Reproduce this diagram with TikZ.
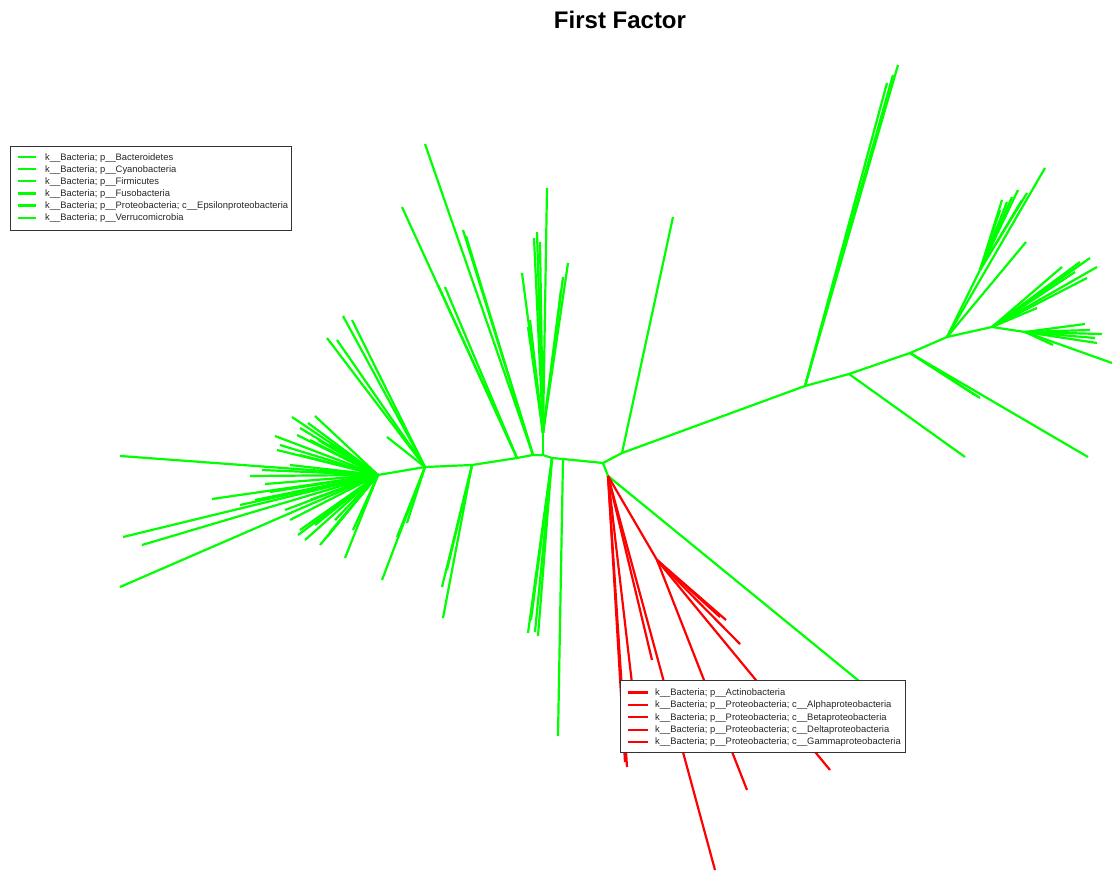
\documentclass[tikz,border=0pt]{standalone}
\usepackage{fontspec}
\setmainfont{Liberation Sans}
\usetikzlibrary{positioning}
\definecolor{treegreen}{HTML}{00FF00}
\definecolor{treered}{HTML}{FF0000}
\definecolor{boxgray}{HTML}{333333}

\begin{document}
\begin{tikzpicture}[x=1pt,y=-1pt,
  grn/.style={draw=treegreen,line width=2.2pt},
  rd/.style={draw=treered,line width=2.2pt},
  lgbox/.style={draw=boxgray,fill=white,line width=0.9pt},
  lgtext/.style={font=\fontsize{9.4}{10}\selectfont,anchor=west,inner sep=0pt,text=black!85},
]
  \useasboundingbox (0,0) rectangle (1112,875);

  % Title
  \node[font=\fontsize{24}{26}\bfseries\selectfont] (title) at (620,20) {First Factor};

  % Backbone of the tree
  \coordinate (L0) at (378,475);
  \coordinate (L1) at (425,467);
  \coordinate (L2) at (472,465);
  \coordinate (L3) at (517,458);
  \coordinate (L4) at (533,455);
  \coordinate (L5) at (543,455);
  \coordinate (L6) at (552,458);
  \coordinate (L7) at (563,459);
  \coordinate (C)  at (603,463);
  \coordinate (G0) at (608,476);
  \coordinate (R1) at (622,453);
  \coordinate (R2) at (805,386);
  \coordinate (R3) at (849,374);
  \coordinate (R4) at (910,353);
  \coordinate (R5) at (947,337);
  \coordinate (R6) at (992,327);
  \coordinate (R7) at (1025,332);
  \draw[grn] (L0) -- (L1) -- (L2) -- (L3) -- (L4) -- (L5) -- (L6) -- (L7) -- (C)
    -- (R1) -- (R2) -- (R3) -- (R4) -- (R5) -- (R6) -- (R7);
  \draw[grn] (C) -- (G0);

  % Left fan
  \foreach \t in {(120,456),(123,537),(142,545),(120,587),(212,499),(265,484),
      (250,476),(292,417),(315,416),(275,436),(277,450),(297,435),(308,423),
      (318,440),(330,445),(300,530),(298,535),(327,537),(345,558),(353,530),
      (240,505),(285,510),(310,500),(335,520),(290,465),(320,470),
      (262,470),(300,455),(270,492),(255,500),(290,520),(315,525),(330,532),
      (305,540),(320,545),(280,445),(300,428),(310,440)}
    \draw[grn] (L0) -- \t;

  % Upper and lower branches off the left half
  \foreach \t in {(343,316),(352,320),(327,338),(337,340),(387,437),
      (382,580),(397,537),(407,523)}
    \draw[grn] (L1) -- \t;
  \foreach \t in {(442,587),(443,618),(447,570)}
    \draw[grn] (L2) -- \t;
  \foreach \t in {(402,207),(438,285),(445,287)}
    \draw[grn] (L3) -- \t;
  \foreach \t in {(425,144),(463,230),(466,236)}
    \draw[grn] (L4) -- \t;
  \coordinate (S) at (543,433);
  \draw[grn] (L5) -- (S);
  \foreach \t in {(547,188),(537,232),(540,242),(534,238),(522,273),(528,327),
      (530,320),(568,263),(563,277),(561,290)}
    \draw[grn] (S) -- \t;
  \foreach \t in {(528,633),(535,632),(538,636),(531,620)}
    \draw[grn] (L6) -- \t;
  \draw[grn] (L7) -- (558,736);

  % Right half
  \draw[grn] (R1) -- (673,217);
  \foreach \t in {(898,65),(887,83),(893,75)}
    \draw[grn] (R2) -- \t;
  \draw[grn] (R3) -- (965,457);
  \foreach \t in {(1088,457),(980,398),(975,395)}
    \draw[grn] (R4) -- \t;
  \coordinate (F1) at (980,270);
  \draw[grn] (R5) -- (1045,168);
  \draw[grn] (R5) -- (1026,242);
  \draw[grn] (R5) -- (F1);
  \foreach \t in {(1002,200),(1007,202),(1012,197),(1018,190),(1027,193),
      (1022,200),(1000,210)}
    \draw[grn] (F1) -- \t;
  \foreach \t in {(1090,258),(1097,267),(1062,267),(1087,278),(1037,308),
      (1075,272),(1080,262)}
    \draw[grn] (R6) -- \t;
  \foreach \t in {(1085,324),(1102,334),(1097,343),(1053,345),(1112,363),
      (1090,330),(1095,338)}
    \draw[grn] (R7) -- \t;
  \draw[grn] (G0) -- (870,690);

  % Red clade
  \coordinate (Rh) at (657,560);
  \foreach \t in {(627,767),(625,762),(640,753),(652,660),(715,870),(Rh)}
    \draw[rd] (G0) -- \t;
  \foreach \t in {(720,617),(740,644),(830,770),(747,790),(726,620)}
    \draw[rd] (Rh) -- \t;

  % Legend, green clades
  \node[lgbox,minimum width=281pt,minimum height=84pt,anchor=north west]
    (glegend) at (10,146) {};
  \foreach \lab [count=\i] in {k\_\_Bacteria; p\_\_Bacteroidetes,
      k\_\_Bacteria; p\_\_Cyanobacteria,
      k\_\_Bacteria; p\_\_Firmicutes,
      k\_\_Bacteria; p\_\_Fusobacteria,
      k\_\_Bacteria; p\_\_Proteobacteria; c\_\_Epsilonproteobacteria,
      k\_\_Bacteria; p\_\_Verrucomicrobia} {
    \draw[grn] (18,145+12.1*\i) -- (36,145+12.1*\i);
    \node[lgtext] (gl\i) at (45,145.5+12.1*\i) {\lab};
  }

  % Legend, red clades
  \node[lgbox,minimum width=285pt,minimum height=72pt,anchor=north west]
    (rlegend) at (620,680) {};
  \foreach \lab [count=\i] in {k\_\_Bacteria; p\_\_Actinobacteria,
      k\_\_Bacteria; p\_\_Proteobacteria; c\_\_Alphaproteobacteria,
      k\_\_Bacteria; p\_\_Proteobacteria; c\_\_Betaproteobacteria,
      k\_\_Bacteria; p\_\_Proteobacteria; c\_\_Deltaproteobacteria,
      k\_\_Bacteria; p\_\_Proteobacteria; c\_\_Gammaproteobacteria} {
    \draw[rd] (628,680+12.4*\i) -- (648,680+12.4*\i);
    \node[lgtext] (rl\i) at (655,680.5+12.4*\i) {\lab};
  }
\end{tikzpicture}
\end{document}
